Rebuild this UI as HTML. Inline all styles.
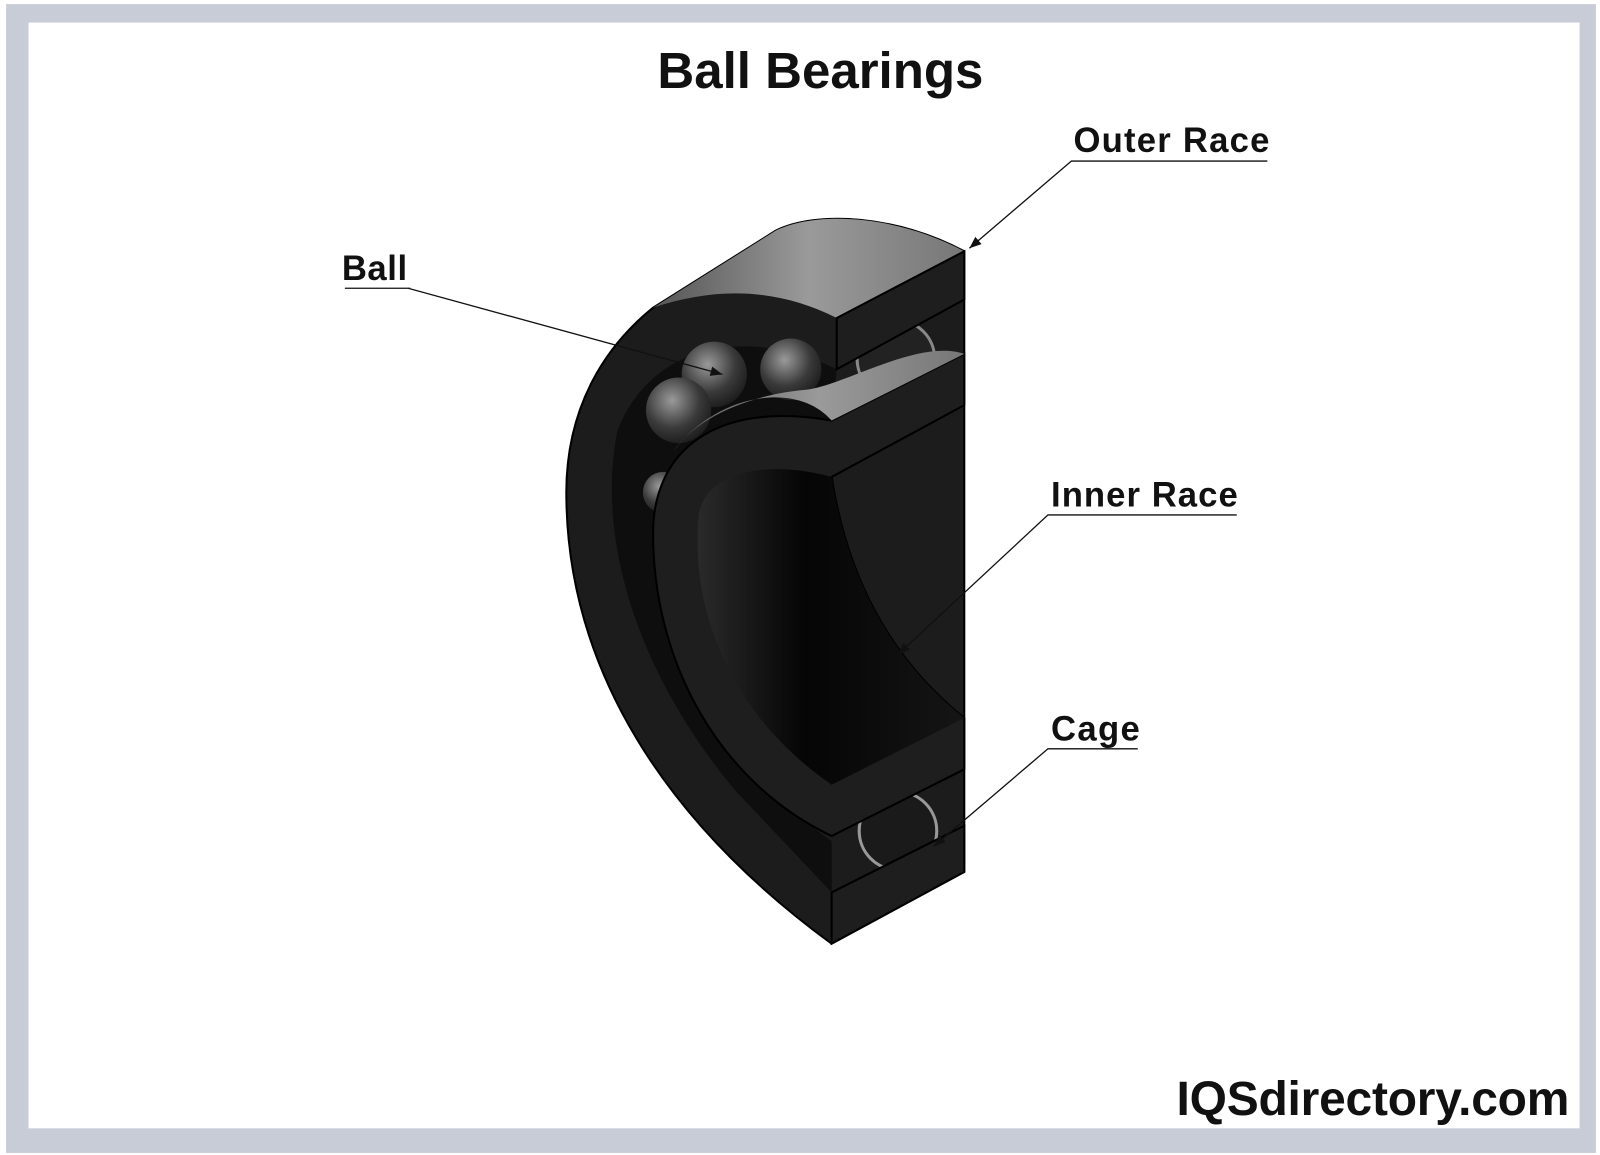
<!DOCTYPE html>
<html><head><meta charset="utf-8"><style>
html,body{margin:0;padding:0;background:#fff}
svg{display:block}
text{font-family:"Liberation Sans",sans-serif;fill:#111}
</style></head><body>
<svg width="1600" height="1155" viewBox="0 0 1568 1126" preserveAspectRatio="none" xmlns="http://www.w3.org/2000/svg">
<defs>
<linearGradient id="top" x1="0" y1="0" x2="1" y2="0"><stop offset="0" stop-color="#555"/><stop offset="0.5" stop-color="#9a9a9a"/><stop offset="1" stop-color="#777"/></linearGradient>
<linearGradient id="bore" x1="0" y1="0" x2="1" y2="0"><stop offset="0" stop-color="#2a2a2a"/><stop offset="0.4" stop-color="#050505"/><stop offset="1" stop-color="#151515"/></linearGradient>
<radialGradient id="ball" cx="0.4" cy="0.35" r="0.7"><stop offset="0" stop-color="#9a9a9a"/><stop offset="0.6" stop-color="#3a3a3a"/><stop offset="1" stop-color="#1a1a1a"/></radialGradient>
<marker id="ar" viewBox="0 0 10 10" refX="10" refY="5" markerWidth="9" markerHeight="9" orient="auto"><path d="M0,1 L10,5 L0,9 Z" fill="#111"/></marker>
</defs>
<rect x="0" y="0" width="1568" height="1126" fill="#fff"/>
<rect x="6" y="4" width="1558" height="1120" fill="#c8ccd6"/>
<rect x="28" y="22" width="1520" height="1078" fill="#fff"/>
<text x="804" y="86" font-size="50" font-weight="bold" text-anchor="middle">Ball Bearings</text>

<path d="M945,245 L945,850 L815,920 C650,800 555,650 555,480 C555,400 590,340 640,300 L760,225 C800,205 880,210 945,245 Z" fill="#1c1c1c" stroke="#000" stroke-width="2"/>
<path d="M640,300 L760,225 C800,205 880,210 945,245 L820,310 C760,280 700,280 640,300 Z" fill="url(#top)"/>
<path d="M820,360 C740,320 640,330 605,420 C585,520 620,650 720,770 L815,870 L815,820 C700,740 640,620 640,520 C640,440 700,390 815,410 Z" fill="#0e0e0e"/>
<circle cx="700" cy="365" r="32" fill="url(#ball)"/>
<circle cx="775" cy="360" r="30" fill="url(#ball)"/>
<circle cx="665" cy="400" r="32" fill="url(#ball)"/>
<circle cx="650" cy="480" r="20" fill="url(#ball)"/>
<circle cx="878" cy="350" r="38" fill="#222" stroke="#888" stroke-width="3"/>
<circle cx="880" cy="810" r="38" fill="#1a1a1a" stroke="#999" stroke-width="3"/>
<path d="M820,310 L945,245 L945,292 L820,360 Z" fill="#1e1e1e" stroke="#000" stroke-width="2"/>
<path d="M815,870 L945,805 L945,850 L815,920 Z" fill="#1e1e1e" stroke="#000" stroke-width="2"/>
<path d="M815,410 L945,345 L945,395 L815,465 C830,560 870,640 945,700 L945,750 L815,815 C700,760 640,640 640,520 C640,440 700,390 815,410 Z" fill="#1e1e1e" stroke="#000" stroke-width="2"/>
<path d="M660,440 C700,385 780,370 815,410 L945,345 C900,330 830,375 790,380 C730,385 680,410 660,440 Z" fill="url(#top)"/>
<path d="M815,465 C830,560 870,640 945,700 L815,765 C720,700 675,600 685,500 C695,455 760,450 815,465 Z" fill="url(#bore)"/>

<g stroke="#111" stroke-width="1.3" fill="none">
<polyline points="1242,157 1050,157 950,242" marker-end="url(#ar)"/>
<polyline points="402,281 338,281 400,281 708,365" marker-end="url(#ar)"/>
<polyline points="1212,502 1027,502 880,638" marker-end="url(#ar)"/>
<polyline points="1115,730 1027,730 915,825" marker-end="url(#ar)"/>
</g>
<text x="1052" y="148" font-size="34" font-weight="bold" textLength="192">Outer Race</text>
<text x="335" y="273" font-size="34" font-weight="bold" textLength="64">Ball</text>
<text x="1030" y="494" font-size="34" font-weight="bold" textLength="183">Inner Race</text>
<text x="1030" y="722" font-size="34" font-weight="bold" textLength="87">Cage</text>
<text x="1153" y="1087" font-size="47" font-weight="bold" textLength="385">IQSdirectory.com</text>
</svg>
</body></html>
